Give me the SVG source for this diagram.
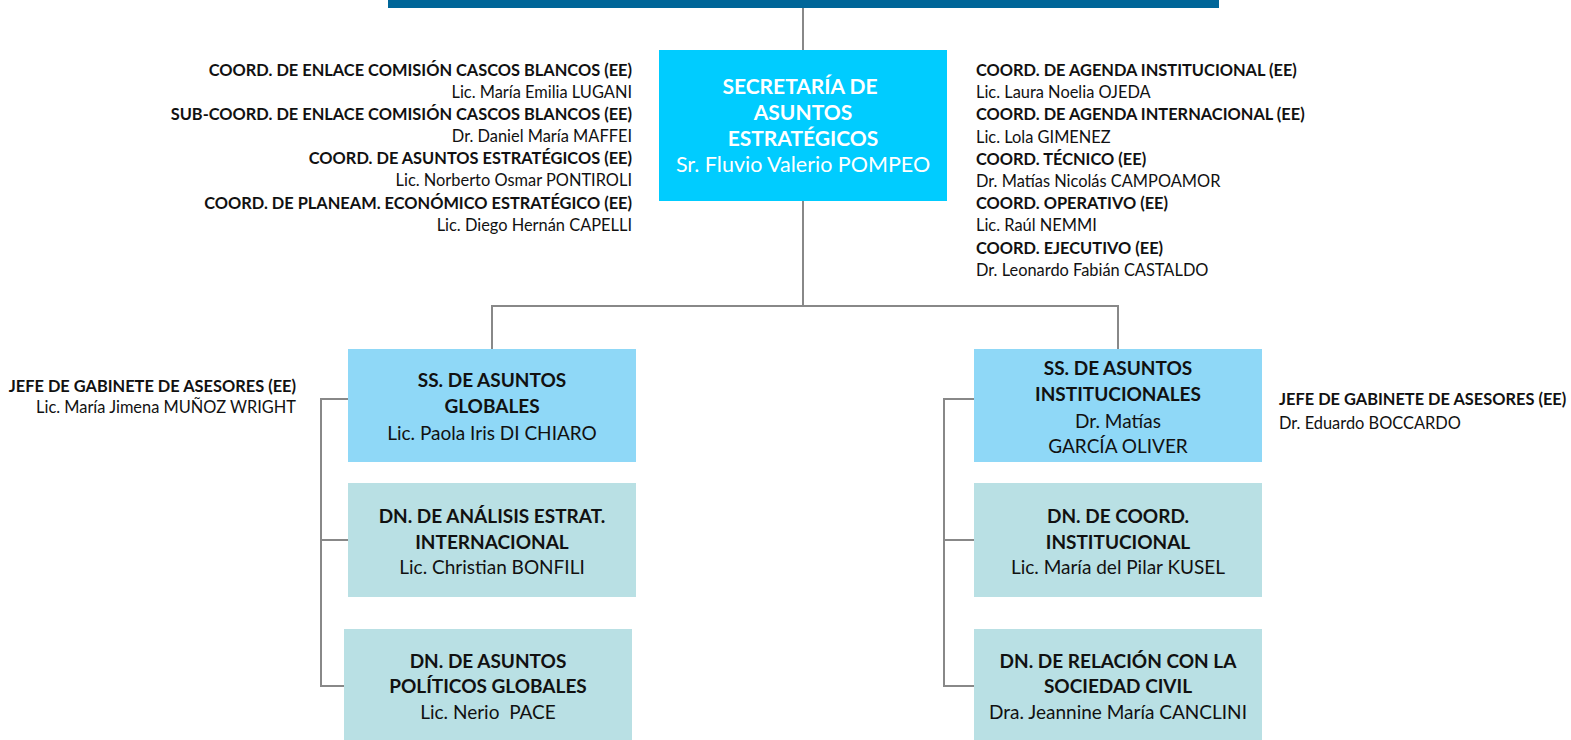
<svg xmlns="http://www.w3.org/2000/svg" width="1571" height="740" viewBox="0 0 1571 740">
<style>
text{font-family:Lato,"Open Sans","Liberation Sans",sans-serif;fill:#111}
.b{font-weight:bold}
.s{font-size:16.4px}
.n{font-size:19px;text-anchor:middle}
.c{font-size:21px;text-anchor:middle;fill:#fff}
.cn{font-size:21.5px}
.r{text-anchor:end}
.ss{fill:#8fd8f7}
.dn{fill:#b9e0e4}
.conn{fill:none;stroke:#888;stroke-width:2}
</style>
<rect x="388" y="0" width="831" height="8" fill="#006699"/>
<g id="connectors" class="conn">
<path d="M803 8V50"/>
<path d="M803 201V306"/>
<path d="M492 349V306H1118V349"/>
<path d="M348 399H321V686H344M321 540H348"/>
<path d="M974 399H944V686H974M944 540H974"/>
</g>
<g id="secretaria">
<rect x="659" y="50" width="288" height="151" fill="#00ccff"/>
<text class="c b" x="800" y="94">SECRETARÍA DE</text>
<text class="c b" x="803" y="120">ASUNTOS</text>
<text class="c b" x="803" y="146">ESTRATÉGICOS</text>
<text class="c cn" x="803" y="172">Sr. Fluvio Valerio POMPEO</text>
</g>
<g id="coord-izq" class="s">
<text class="b r" x="632" y="76">COORD. DE ENLACE COMISIÓN CASCOS BLANCOS (EE)</text>
<text class="r" x="632" y="98">Lic. María Emilia LUGANI</text>
<text class="b r" x="632" y="120">SUB-COORD. DE ENLACE COMISIÓN CASCOS BLANCOS (EE)</text>
<text class="r" x="632" y="142">Dr. Daniel María MAFFEI</text>
<text class="b r" x="632" y="164">COORD. DE ASUNTOS ESTRATÉGICOS (EE)</text>
<text class="r" x="632" y="186">Lic. Norberto Osmar PONTIROLI</text>
<text class="b r" x="632" y="209">COORD. DE PLANEAM. ECONÓMICO ESTRATÉGICO (EE)</text>
<text class="r" x="632" y="231">Lic. Diego Hernán CAPELLI</text>
</g>
<g id="coord-der" class="s">
<text class="b" x="976" y="76">COORD. DE AGENDA INSTITUCIONAL (EE)</text>
<text x="976" y="98">Lic. Laura Noelia OJEDA</text>
<text class="b" x="976" y="120">COORD. DE AGENDA INTERNACIONAL (EE)</text>
<text x="976" y="143">Lic. Lola GIMENEZ</text>
<text class="b" x="976" y="165">COORD. TÉCNICO (EE)</text>
<text x="976" y="187">Dr. Matías Nicolás CAMPOAMOR</text>
<text class="b" x="976" y="209">COORD. OPERATIVO (EE)</text>
<text x="976" y="231">Lic. Raúl NEMMI</text>
<text class="b" x="976" y="254">COORD. EJECUTIVO (EE)</text>
<text x="976" y="276">Dr. Leonardo Fabián CASTALDO</text>
</g>
<g id="jefe-izq" class="s">
<text class="b r" x="296" y="392">JEFE DE GABINETE DE ASESORES (EE)</text>
<text class="r" x="296" y="413">Lic. María Jimena MUÑOZ WRIGHT</text>
</g>
<g id="jefe-der" class="s">
<text class="b" x="1279" y="405">JEFE DE GABINETE DE ASESORES (EE)</text>
<text x="1279" y="429">Dr. Eduardo BOCCARDO</text>
</g>
<g id="ss-globales">
<rect class="ss" x="348" y="349" width="288" height="113"/>
<text class="n b" x="492" y="387">SS. DE ASUNTOS</text>
<text class="n b" x="492" y="413">GLOBALES</text>
<text class="n" x="492" y="440">Lic. Paola Iris DI CHIARO</text>
</g>
<g id="ss-institucionales">
<rect class="ss" x="974" y="349" width="288" height="113"/>
<text class="n b" x="1118" y="374.5">SS. DE ASUNTOS</text>
<text class="n b" x="1118" y="400.5">INSTITUCIONALES</text>
<text class="n" x="1118" y="427.5">Dr. Matías</text>
<text class="n" x="1118" y="452.5">GARCÍA OLIVER</text>
</g>
<g id="dn-analisis">
<rect class="dn" x="348" y="483" width="288" height="114"/>
<text class="n b" x="492" y="522.5">DN. DE ANÁLISIS ESTRAT.</text>
<text class="n b" x="492" y="548.5">INTERNACIONAL</text>
<text class="n" x="492" y="573.5">Lic. Christian BONFILI</text>
</g>
<g id="dn-politicos">
<rect class="dn" x="344" y="629" width="288" height="111"/>
<text class="n b" x="488" y="668">DN. DE ASUNTOS</text>
<text class="n b" x="488" y="693">POLÍTICOS GLOBALES</text>
<text class="n" x="488" y="719" xml:space="preserve">Lic. Nerio  PACE</text>
</g>
<g id="dn-coord">
<rect class="dn" x="974" y="483" width="288" height="114"/>
<text class="n b" x="1118" y="522.5">DN. DE COORD.</text>
<text class="n b" x="1118" y="548.5">INSTITUCIONAL</text>
<text class="n" x="1118" y="573.5">Lic. María del Pilar KUSEL</text>
</g>
<g id="dn-sociedad">
<rect class="dn" x="974" y="629" width="288" height="111"/>
<text class="n b" x="1118" y="668">DN. DE RELACIÓN CON LA</text>
<text class="n b" x="1118" y="693">SOCIEDAD CIVIL</text>
<text class="n" x="1118" y="719">Dra. Jeannine María CANCLINI</text>
</g>
</svg>
